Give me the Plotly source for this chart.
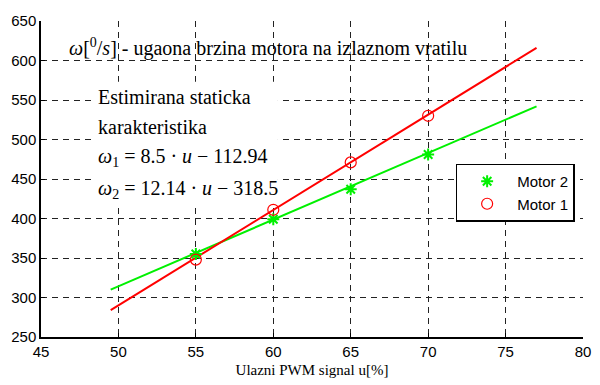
import plotly.graph_objects as go

# data
u_pts = [55, 60, 65, 70]
motor2 = [355, 399, 437, 481]
motor1 = [348, 411, 471, 530]
fit_u = [49.5, 77]
fit_motor2 = [310, 542]
fit_motor1 = [284, 616]

x_ticks = [45, 50, 55, 60, 65, 70, 75, 80]
y_ticks = [250, 300, 350, 400, 450, 500, 550, 600, 650]

GREEN = "#00f000"
RED = "#ff0000"

fig = go.Figure()
fig.add_trace(go.Scatter(x=fit_u, y=fit_motor2, mode="lines",
                         line=dict(color=GREEN, width=2), showlegend=False, hoverinfo="skip"))
fig.add_trace(go.Scatter(x=fit_u, y=fit_motor1, mode="lines",
                         line=dict(color=RED, width=2), showlegend=False, hoverinfo="skip"))
fig.add_trace(go.Scatter(x=u_pts, y=motor2, mode="markers", name="Motor 2",
                         marker=dict(symbol="asterisk-open", size=10, color=GREEN,
                                     line=dict(color=GREEN, width=2))))
fig.add_trace(go.Scatter(x=u_pts, y=motor1, mode="markers", name="Motor 1",
                         marker=dict(symbol="circle-open", size=11, color=RED,
                                     line=dict(color=RED, width=1.2))))

serif = "Liberation Serif"
sans = "Liberation Sans"

# white box behind the estimation text
fig.add_shape(type="rect", xref="x", yref="y", x0=48.3, x1=60.3, y0=418, y1=573,
              fillcolor="white", line=dict(width=0), layer="between")

fig.add_annotation(x=46.7, y=617, xref="x", yref="y", xanchor="left", yanchor="middle",
                   text="<i>ω</i>[<sup>0</sup>/<i>s</i>] - ugaona brzina motora na izlaznom vratilu",
                   showarrow=False, font=dict(family=serif, size=20, color="black"))
lines = [
    (554, "Estimirana staticka"),
    (516, "karakteristika"),
    (477, "<i>ω</i><sub>1</sub> = 8.5 · <i>u</i> − 112.94"),
    (437, "<i>ω</i><sub>2</sub> = 12.14 · <i>u</i> − 318.5"),
]
for yv, txt in lines:
    fig.add_annotation(x=48.55, y=yv, xref="x", yref="y", xanchor="left", yanchor="middle",
                       text=txt, showarrow=False,
                       font=dict(family=serif, size=20, color="black"))

grid = dict(showgrid=True, gridcolor="#222222", gridwidth=1, griddash="6px,5px",
            showline=True, linecolor="black", linewidth=1.5,
            ticks="inside", ticklen=4, tickcolor="black",
            tickfont=dict(family=sans, size=15, color="black"), zeroline=False)

fig.update_xaxes(range=[45, 80], tickvals=x_ticks, **grid,
                 title=dict(text="Ulazni PWM signal u[%]",
                            font=dict(family=serif, size=15, color="black"), standoff=6))
fig.update_yaxes(range=[250, 650], tickvals=y_ticks, **grid)

fig.update_layout(
    width=600, height=385,
    margin=dict(l=41, r=9, t=21, b=47),
    paper_bgcolor="white", plot_bgcolor="white",
    legend=dict(x=0.765, y=0.549, xanchor="left", yanchor="top",
                bgcolor="white", bordercolor="black", borderwidth=1.5,
                font=dict(family=sans, size=15, color="black"),
                itemwidth=50, tracegroupgap=0),
    showlegend=True,
)

fig.write_html("out.html")
